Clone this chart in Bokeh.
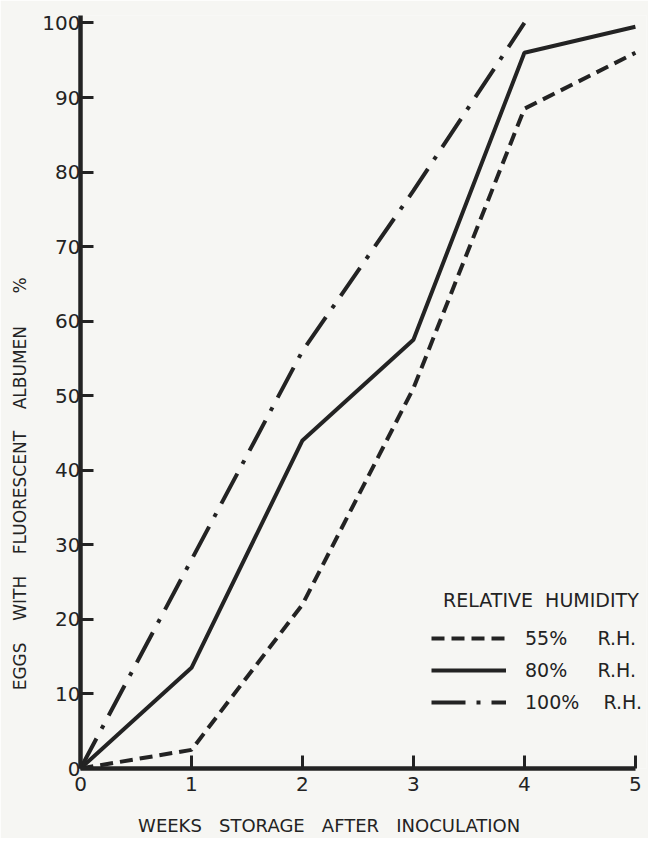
from bokeh.plotting import figure
from bokeh.models import Range1d, Legend, LegendItem, FixedTicker
from bokeh.embed import file_html
from bokeh.resources import INLINE

# ---- data ----
weeks = [0, 1, 2, 3, 4, 5]
rh55 = [0, 2.5, 22, 51, 88.5, 96]
rh80 = [0, 13.5, 44, 57.5, 96, 99.5]
weeks100 = [0, 1, 2, 3, 4]
rh100 = [0, 28, 56, 77.5, 100]

x_ticks = [0, 1, 2, 3, 4, 5]
y_ticks = [0, 10, 20, 30, 40, 50, 60, 70, 80, 90, 100]

NB = "\u00a0"
series_labels = ["55%" + NB * 5 + "R.H.", "80%" + NB * 5 + "R.H.", "100%" + NB * 4 + "R.H."]
legend_title = NB * 2 + "RELATIVE" + NB * 2 + "HUMIDITY"
x_title = (NB * 3).join(["WEEKS", "STORAGE", "AFTER", "INOCULATION"]) + NB * 12
y_title = (NB * 4).join(["EGGS", "WITH", "FLUORESCENT", "ALBUMEN"]) + NB * 6 + "%" + NB * 34

INK = "#232323"
PAPER = "#f6f6f3"
FONT = "DejaVu Sans"

p = figure(width=648, height=838, output_backend="svg", toolbar_location=None,
           x_range=Range1d(0, 5.1), y_range=Range1d(0, 101),
           min_border_left=80, min_border_right=2, min_border_top=15, min_border_bottom=69,
           background_fill_color=PAPER, border_fill_color=PAPER)
p.outline_line_color = None
p.grid.visible = False

for ax in (p.xaxis[0], p.yaxis[0]):
    ax.axis_line_width = 4.5
    ax.axis_line_color = INK
    ax.major_tick_line_color = INK
    ax.major_tick_line_width = 3
    ax.major_tick_in = 13
    ax.major_tick_out = 0
    ax.minor_tick_line_color = None
    ax.major_label_text_font = FONT
    ax.major_label_text_font_size = "20px"
    ax.major_label_text_color = INK
    ax.axis_label_text_font = FONT
    ax.axis_label_text_font_style = "normal"
    ax.axis_label_text_color = INK

p.xaxis.bounds = (0, 5)
p.xaxis.ticker = FixedTicker(ticks=x_ticks)
p.yaxis.ticker = FixedTicker(ticks=y_ticks)
p.xaxis.major_label_standoff = 8
p.yaxis.major_label_standoff = 0
p.xaxis.axis_label = x_title
p.yaxis.axis_label = y_title
p.xaxis.axis_label_text_font_size = "18px"
p.yaxis.axis_label_text_font_size = "17px"
p.xaxis.axis_label_standoff = 21
p.yaxis.axis_label_standoff = 9

r55 = p.line(weeks, rh55, line_color=INK, line_width=4, line_dash="13 7")
r80 = p.line(weeks, rh80, line_color=INK, line_width=4)
r100 = p.line(weeks100, rh100, line_color=INK, line_width=4, line_dash="34 11 4 11")

legend = Legend(items=[LegendItem(label=series_labels[0], renderers=[r55]),
                       LegendItem(label=series_labels[1], renderers=[r80]),
                       LegendItem(label=series_labels[2], renderers=[r100])],
                location=(351, 55), title=legend_title,
                title_text_font=FONT, title_text_font_size="19px", title_text_color=INK,
                title_text_font_style="normal", title_standoff=16,
                label_text_font=FONT, label_text_font_size="19px", label_text_color=INK,
                glyph_width=75, glyph_height=20, label_height=20, label_standoff=19,
                spacing=10, padding=0, margin=0,
                background_fill_alpha=0, border_line_color=None)
p.add_layout(legend)

open("out.html", "w").write(file_html(p, INLINE))
